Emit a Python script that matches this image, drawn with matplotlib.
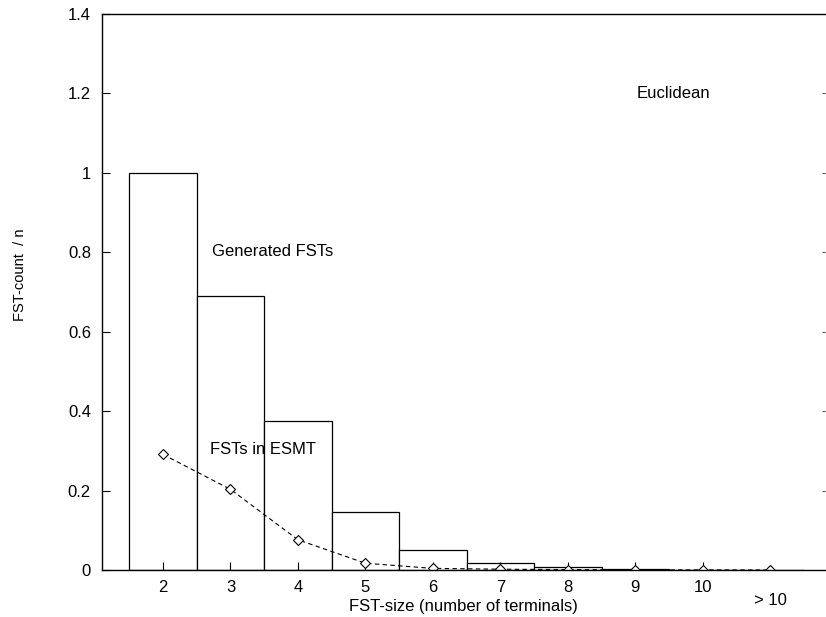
import matplotlib
matplotlib.use('agg')
import matplotlib.pyplot as plt
import matplotlib.transforms as mtransforms

plt.rcParams['font.family'] = ['Liberation Sans', 'DejaVu Sans']

# FST size classes (11 stands for "> 10")
sizes = [2, 3, 4, 5, 6, 7, 8, 9, 10, 11]
size_labels = ['2', '3', '4', '5', '6', '7', '8', '9', '10']
generated = [1.0, 0.691, 0.374, 0.147, 0.050, 0.018, 0.007, 0.003, 0.001, 0.0]
in_esmt = [0.291, 0.203, 0.076, 0.017, 0.004, 0.002, 0.001, 0.0005, 0.0002, 0.0001]
y_ticks = [0, 0.2, 0.4, 0.6, 0.8, 1, 1.2, 1.4]
y_tick_labels = ['0', '0.2', '0.4', '0.6', '0.8', '1', '1.2', '1.4']

fig = plt.figure(figsize=(8.26, 6.17), dpi=100)
ax = fig.add_axes([0.1235, 0.0762, 0.8753, 0.9011])

ax.bar(sizes, generated, width=1.0, facecolor='white', edgecolor='black', linewidth=0.9)
ax.plot(sizes, in_esmt, linestyle=(0, (4, 3)), color='black', linewidth=0.8,
        marker='D', markersize=4.8, markerfacecolor='white', markeredgecolor='black',
        markeredgewidth=0.8)

ax.set_xlim(1.096, 11.81)
ax.set_ylim(0, 1.4)

ax.set_xticks(sizes[:-1])
ax.set_xticklabels(size_labels)
ax.set_yticks(y_ticks)
ax.set_yticklabels(y_tick_labels)
ax.tick_params(axis='both', direction='in', length=6, width=0.8, labelsize=12,
               top=False, color='black')
ax.tick_params(axis='x', pad=7)
ax.tick_params(axis='y', pad=8, right=True, length=2, width=0.5)
for t in ax.yaxis.get_ticklines()[1::2]:
    t.set_color('#cccccc')
for t in ax.yaxis.get_ticklines()[0::2]:
    t.set_markersize(6)
    t.set_markeredgewidth(0.8)

ax.spines['right'].set_visible(False)
for s in ['left', 'bottom', 'top']:
    ax.spines[s].set_linewidth(1.0)

trans = mtransforms.blended_transform_factory(ax.transData, ax.transAxes)
ax.text(11, -0.042, '> 10', transform=trans, ha='center', va='top', fontsize=12)

ax.set_xlabel('FST-size (number of terminals)', fontsize=12, labelpad=3)
fig.text(20 / 826, 1 - 275 / 617, 'FST-count  / n', rotation=90,
         ha='center', va='center', fontsize=10.5)

ax.text(9.02, 1.2, 'Euclidean', fontsize=12, ha='left', va='center')
ax.text(2.72, 0.802, 'Generated FSTs', fontsize=12, ha='left', va='center')
ax.text(2.70, 0.304, 'FSTs in ESMT', fontsize=12, ha='left', va='center')

fig.savefig('out.png', dpi=100)
